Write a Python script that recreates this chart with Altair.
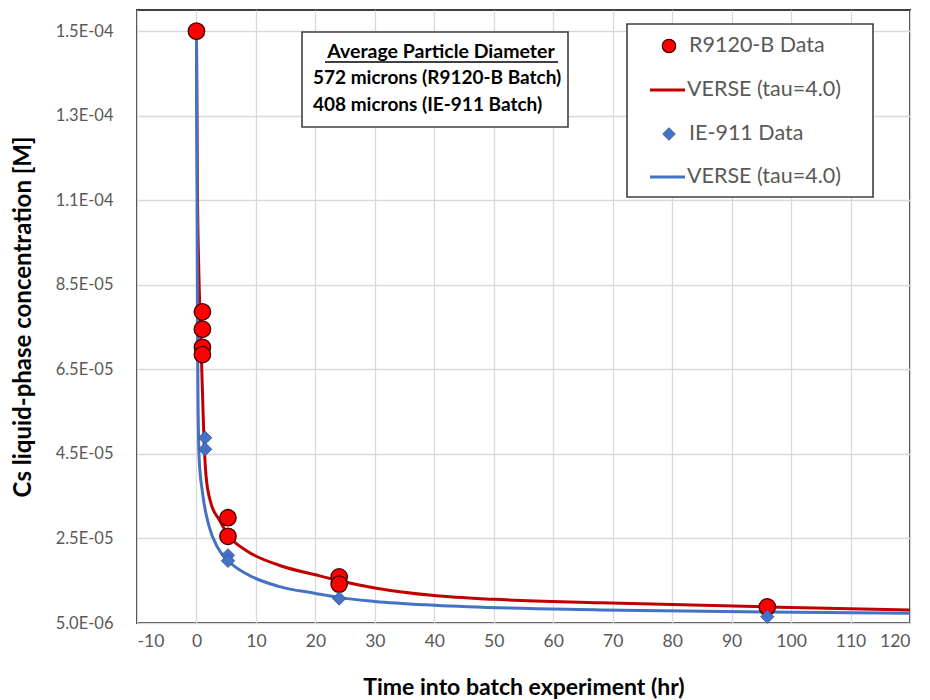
import altair as alt
import pandas as pd

# ---------------- data ----------------
r_x = [0, 1, 1, 1, 1, 5.3, 5.3, 24, 24, 96]
r_y = [1.45e-4, 7.86e-5, 7.45e-5, 7.02e-5, 6.85e-5, 2.99e-5, 2.55e-5, 1.59e-5, 1.42e-5, 8.8e-6]

ie_x = [1.45, 1.45, 5.3, 5.3, 24, 96]
ie_y = [4.88e-5, 4.61e-5, 2.10e-5, 1.97e-5, 1.08e-5, 6.5e-6]

rv_x = [0, 0.15, 0.4, 0.75, 1.0, 1.25, 1.6, 2.4, 3.8, 5.5, 8.3, 14, 20, 24, 30, 40, 50, 68, 96, 120]
rv_y = [1.45e-4, 1.10e-4, 8.8e-5, 7.2e-5, 6.0e-5, 4.9e-5, 4.0e-5, 3.35e-5, 2.95e-5, 2.55e-5,
        2.22e-5, 1.86e-5, 1.64e-5, 1.50e-5, 1.33e-5, 1.15e-5, 1.06e-5, 9.8e-6, 8.8e-6, 8.1e-6]

bv_x = [0, 0.1, 0.17, 0.25, 0.45, 1.0, 2.1, 3.5, 5.5, 8.3, 14, 20, 24, 30, 40, 68, 96, 120]
bv_y = [1.45e-4, 1.05e-4, 8.0e-5, 6.0e-5, 4.4e-5, 3.6e-5, 2.8e-5, 2.3e-5, 1.95e-5, 1.67e-5,
        1.36e-5, 1.20e-5, 1.10e-5, 1.01e-5, 9.2e-6, 8.1e-6, 7.6e-6, 7.3e-6]

x_ticks = list(range(-10, 121, 10))
y_ticks = [5e-6, 2.5e-5, 4.5e-5, 6.5e-5, 8.5e-5, 1.05e-4, 1.25e-4, 1.45e-4]
y_labels = ["5.0E-06", "2.5E-05", "4.5E-05", "6.5E-05", "8.5E-05", "1.1E-04", "1.3E-04", "1.5E-04"]

legend_labels = ["R9120-B Data", "VERSE (tau=4.0)", "IE-911 Data", "VERSE (tau=4.0)"]
note_lines = ["Average Particle Diameter", "572 microns (R9120-B Batch)", "408 microns (IE-911 Batch)"]

FONT = "Lato"
W, H = 773, 613

red_pts = pd.DataFrame({"t": r_x, "c": r_y})
ie_pts = pd.DataFrame({"t": ie_x, "c": ie_y})
red_line = pd.DataFrame({"t": rv_x, "c": rv_y})
blue_line = pd.DataFrame({"t": bv_x, "c": bv_y})

y_label_expr = ("[" + ",".join(f"'{l}'" for l in y_labels) + "]"
                + f"[round((datum.value - {y_ticks[0]}) / {y_ticks[1] - y_ticks[0]})]")

xs = alt.Scale(domain=[-10, 120], nice=False, zero=False)
ys = alt.Scale(domain=[5e-6, 1.5e-4], nice=False, zero=False)

x_enc = alt.X("t:Q", scale=xs, axis=alt.Axis(
    values=x_ticks, labelExpr="'' + datum.value", title="Time into batch experiment (hr)", grid=True,
    ticks=False, tickSize=0, domain=False, labelPadding=9, labelFontSize=17.5,
    labelColor="#595959", labelFont=FONT, titleFont=FONT, titleFontSize=23,
    titleFontWeight="bold", titleColor="#000000", titleBaseline="middle",
    titleY=64, gridColor="#d9d9d9", gridWidth=1.3))
y_enc = alt.Y("c:Q", scale=ys, axis=alt.Axis(
    values=y_ticks, labelExpr=y_label_expr, title="Cs liquid-phase concentration [M]",
    grid=True, ticks=False, tickSize=0, domain=False, labelPadding=24, labelFontSize=16.5,
    labelColor="#595959", labelFont=FONT, titleFont=FONT, titleFontSize=24,
    titleFontWeight="bold", titleColor="#000000", titleBaseline="middle",
    titleX=-114, titleAngle=-90, gridColor="#d9d9d9", gridWidth=1.3))

rl = alt.Chart(red_line).mark_line(color="#C00000", strokeWidth=3, interpolate="monotone").encode(x=x_enc, y=y_enc)
bl = alt.Chart(blue_line).mark_line(color="#4472C4", strokeWidth=3, interpolate="monotone").encode(x="t:Q", y="c:Q")
rp = alt.Chart(red_pts).mark_point(shape="circle", filled=True, size=270, fill="#FF0000",
                                   stroke="#3a0000", strokeWidth=1.3, opacity=1).encode(x="t:Q", y="c:Q")
bp = alt.Chart(ie_pts).mark_point(shape="diamond", filled=True, size=180, fill="#4472C4",
                                  stroke="#2F528F", strokeWidth=0.8, opacity=1).encode(x="t:Q", y="c:Q")

one = pd.DataFrame({"a": [0]})

# ---------------- legend box ----------------
leg_box = alt.Chart(one).mark_rect(fill="white", stroke="#404040", strokeWidth=1.6).encode(
    x=alt.value(490), x2=alt.value(736), y=alt.value(14), y2=alt.value(187))
leg_c = alt.Chart(one).mark_point(shape="circle", filled=True, size=180, fill="#FF0000",
                                  stroke="#3a0000", strokeWidth=1.2, opacity=1).encode(
    x=alt.value(532), y=alt.value(36))
leg_d = alt.Chart(one).mark_point(shape="diamond", filled=True, size=160, fill="#4472C4",
                                  stroke="#2F528F", strokeWidth=0.8, opacity=1).encode(
    x=alt.value(532), y=alt.value(124))
leg_rl = alt.Chart(one).mark_rule(color="#C00000", strokeWidth=3).encode(
    x=alt.value(513), x2=alt.value(548), y=alt.value(80))
leg_bl = alt.Chart(one).mark_rule(color="#4472C4", strokeWidth=3).encode(
    x=alt.value(513), x2=alt.value(548), y=alt.value(167))
leg_txt = alt.Chart(pd.DataFrame({"lab": legend_labels, "yy": [36, 80, 124, 167],
                                  "xx": [552, 550, 552, 550]})).mark_text(
    align="left", baseline="middle", font=FONT, fontSize=21.5, color="#595959").encode(
    x=alt.X("xx:Q", scale=None), y=alt.Y("yy:Q", scale=None), text="lab:N")

# ---------------- annotation box ----------------
note_box = alt.Chart(one).mark_rect(fill="white", stroke="#404040", strokeWidth=1.6).encode(
    x=alt.value(165), x2=alt.value(431), y=alt.value(22), y2=alt.value(117))
note_title = alt.Chart(pd.DataFrame({"lab": note_lines[:1]})).mark_text(
    align="center", baseline="middle", font=FONT, fontSize=19.5, fontWeight="bold", color="#000000").encode(
    x=alt.value(304), y=alt.value(42), text="lab:N")
note_ul = alt.Chart(one).mark_rule(color="#000000", strokeWidth=1.4).encode(
    x=alt.value(188), x2=alt.value(421), y=alt.value(52))
note_body = alt.Chart(pd.DataFrame({"lab": note_lines[1:], "yy": [68, 95]})).mark_text(
    align="left", baseline="middle", font=FONT, fontSize=19, fontWeight="bold", color="#000000").encode(
    x=alt.value(176), y=alt.Y("yy:Q", scale=None), text="lab:N")

chart = alt.layer(rl, bl, rp, bp, leg_box, leg_c, leg_d, leg_rl, leg_bl, leg_txt,
                  note_box, note_title, note_ul, note_body).properties(
    width=W, height=H,
    autosize=alt.AutoSizeParams(type="none"),
    padding={"left": 137, "top": 10, "right": 20, "bottom": 77},
    background="white",
).configure_view(stroke="#404040", strokeWidth=2)

chart.save("out.html", embed_options={"renderer": "svg", "actions": False})
